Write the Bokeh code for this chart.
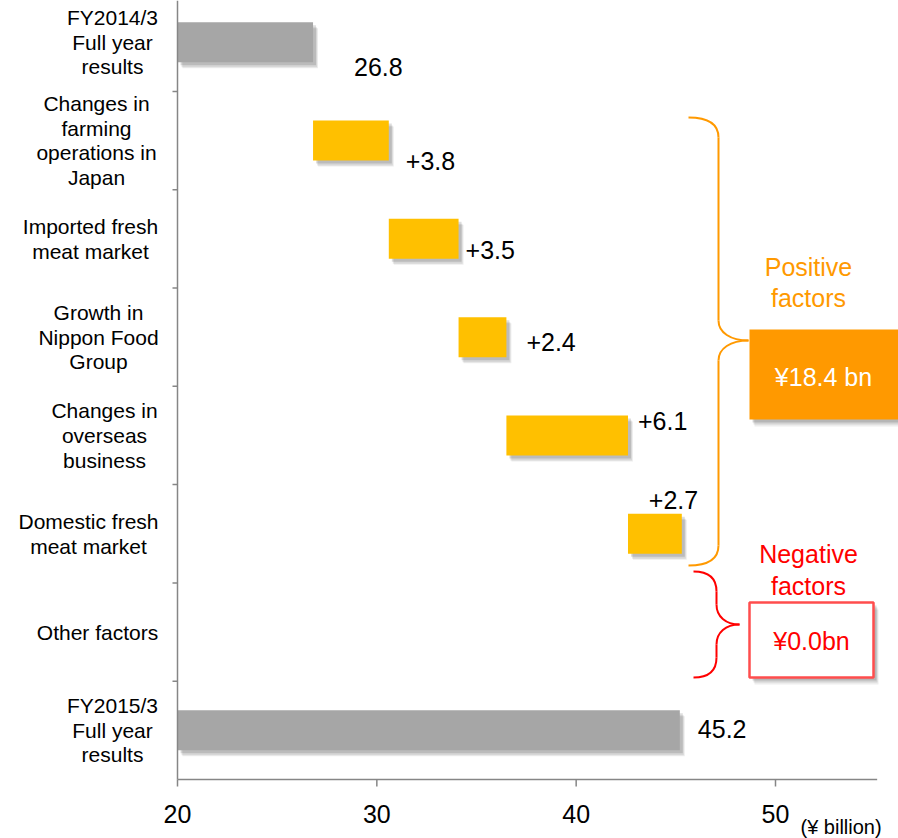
from bokeh.plotting import figure
from bokeh.models import Range1d, ColumnDataSource
from bokeh.embed import file_html
from bokeh.resources import INLINE
from bokeh.core.properties import value

# ---------------- data ----------------
categories = [
    "FY2014/3\nFull year\nresults",
    "Changes in\nfarming\noperations in\nJapan",
    "Imported fresh\nmeat market",
    "Growth in\nNippon Food\nGroup",
    "Changes in\noverseas\nbusiness",
    "Domestic fresh\nmeat market",
    "Other factors",
    "FY2015/3\nFull year\nresults",
]
start_value = 26.8
factor_values = [3.8, 3.5, 2.4, 6.1, 2.7, 0.0]
end_value = 45.2
value_labels = ["26.8", "+3.8", "+3.5", "+2.4", "+6.1", "+2.7", "", "45.2"]
x_ticks = [20, 30, 40, 50]
x_tick_labels = ["20", "30", "40", "50"]
positive_title = ["Positive", "factors"]
negative_title = ["Negative", "factors"]
positive_total = "¥18.4 bn"
negative_total = "¥0.0bn"
unit_label = "(¥ billion)"

# ---------------- layout constants ----------------
W, H = 898, 838
LEFT_PX, BOTTOM_PX = 177, 779
X0 = 20.0
X_AXIS_END = 55.1
PXU = (775 - 177) / 30.0          # px per x unit
ROWH = 98.3                        # px per row
Y_TOP = 7.5 - BOTTOM_PX / ROWH     # data y at top of window
FONT = "Liberation Sans"
GRAY = "#A6A6A6"
YELLOW = "#FFC000"
ORANGE = "#FF9900"
RED = "#FF0000"
AXIS = "#868686"


def X(px):
    return X0 + (px - LEFT_PX) / PXU


def Y(py):
    return Y_TOP + py / ROWH


rows = list(range(len(categories)))
lefts, rights = [X0], [start_value]
cum = start_value
for v in factor_values:
    lefts.append(cum)
    cum += v
    rights.append(cum)
lefts.append(X0)
rights.append(end_value)
colors = [GRAY] + [YELLOW] * len(factor_values) + [GRAY]

p = figure(width=W, height=H, output_backend="svg", toolbar_location=None,
           x_range=Range1d(X(0), X(W)), y_range=Range1d(Y(H), Y(0)),
           min_border=0)
p.outline_line_color = None
p.xaxis.visible = False
p.yaxis.visible = False
p.xgrid.visible = False
p.ygrid.visible = False
p.background_fill_color = "white"
p.border_fill_color = "white"

BAR_H = 40 / ROWH
# shadows
for dx, dy, a in [(5, 6, 0.07), (4, 5, 0.09), (3, 3, 0.13)]:
    p.quad(left=[l + dx / PXU for l in lefts], right=[r + dx / PXU for r in rights],
           top=[y - BAR_H / 2 + dy / ROWH for y in rows],
           bottom=[y + BAR_H / 2 + dy / ROWH for y in rows],
           fill_color="black", fill_alpha=a, line_color=None)
p.hbar(y=rows, left=lefts, right=rights, height=BAR_H, fill_color=colors, line_color=None)

# value labels
label_dx = [41, 17, 7, 20, 10, -33, 0, 18]
label_dy = [25, 20, 11, 5, -14, -34, 0, -1]
src = ColumnDataSource(dict(x=rights, y=rows, t=value_labels, dx=label_dx, dy=label_dy))
p.text(x="x", y="y", text="t", x_offset="dx", y_offset="dy", source=src,
       text_font=value(FONT), text_font_size="25px", text_color="black",
       text_align="left", text_baseline="middle")

# category labels
centers = [112, 96, 90, 98, 104, 88, 97, 112]
p.text(x=[X(c) for c in centers], y=rows, text=categories, text_font=value(FONT),
       text_font_size="21px", text_align="center", text_baseline="middle",
       text_line_height=1.07, text_color="black")

# axes (drawn through the same data scales)
p.segment(x0=[X0, X0], y0=[7.5, Y(0)], x1=[X_AXIS_END, X0], y1=[7.5, 7.5],
          line_color=AXIS, line_width=1.5)
p.segment(x0=x_ticks, y0=[7.5] * len(x_ticks), x1=x_ticks,
          y1=[7.5 + 7 / ROWH] * len(x_ticks), line_color=AXIS, line_width=1.5)
bounds = [r + 0.5 for r in rows[:-1]]
p.segment(x0=[X0 - 5 / PXU] * len(bounds), y0=bounds, x1=[X0] * len(bounds), y1=bounds,
          line_color=AXIS, line_width=1.5)
p.text(x=x_ticks, y=[Y(813)] * len(x_ticks), text=x_tick_labels, text_font=value(FONT),
       text_font_size="25px", text_color="black", text_align="center", text_baseline="middle")
p.text(x=[X(800)], y=[Y(826)], text=[unit_label], text_font=value(FONT),
       text_font_size="20px", text_color="black", text_align="left", text_baseline="middle")


# braces
def brace(x0, xv, xt, y0, yt, y1, rv, color):
    rh = xv - x0
    beziers = [
        (x0, y0, xv, y0 + rv, x0 + rh * 0.7, y0, xv, y0 + rv * 0.4),
        (xv, yt - rv, xt, yt, xv, yt - rv * 0.4, xv + rh * 0.4, yt),
        (xt, yt, xv, yt + rv, xv + rh * 0.4, yt, xv, yt + rv * 0.4),
        (xv, y1 - rv, x0, y1, xv, y1 - rv * 0.4, x0 + rh * 0.7, y1),
    ]
    p.bezier(x0=[X(b[0]) for b in beziers], y0=[Y(b[1]) for b in beziers],
             x1=[X(b[2]) for b in beziers], y1=[Y(b[3]) for b in beziers],
             cx0=[X(b[4]) for b in beziers], cy0=[Y(b[5]) for b in beziers],
             cx1=[X(b[6]) for b in beziers], cy1=[Y(b[7]) for b in beziers],
             line_color=color, line_width=2)
    p.segment(x0=[X(xv), X(xv)], y0=[Y(y0 + rv), Y(yt + rv)],
              x1=[X(xv), X(xv)], y1=[Y(yt - rv), Y(y1 - rv)],
              line_color=color, line_width=2)


brace(688, 718, 748, 117, 340, 565, 20, ORANGE)
brace(693, 716, 739, 571, 624, 677, 20, RED)

# positive box
for dx, dy, a in [(5, 7, 0.07), (4, 5, 0.1), (3, 3, 0.14)]:
    p.quad(left=[X(749 + dx)], right=[X(898 + dx)], top=[Y(329 + dy)], bottom=[Y(419 + dy)],
           fill_color="black", fill_alpha=a, line_color=None)
p.quad(left=[X(749)], right=[X(898)], top=[Y(329)], bottom=[Y(419)],
       fill_color=ORANGE, line_color=None)
p.text(x=[X(823)], y=[Y(376)], text=[positive_total], text_font=value(FONT),
       text_font_size="25px", text_color="white", text_align="center", text_baseline="middle")
p.text(x=[X(808), X(808)], y=[Y(266), Y(297)], text=positive_title, text_font=value(FONT),
       text_font_size="25px", text_color=ORANGE, text_align="center", text_baseline="middle")

# negative box
for dx, dy, a in [(5, 7, 0.07), (4, 5, 0.1), (3, 3, 0.14)]:
    p.quad(left=[X(749 + dx)], right=[X(873 + dx)], top=[Y(602 + dy)], bottom=[Y(677 + dy)],
           fill_color="black", fill_alpha=a, line_color=None)
p.quad(left=[X(749)], right=[X(873)], top=[Y(602)], bottom=[Y(677)],
       fill_color="white", line_color="#FF4D4D", line_width=2.5)
p.text(x=[X(811)], y=[Y(640)], text=[negative_total], text_font=value(FONT),
       text_font_size="25px", text_color=RED, text_align="center", text_baseline="middle")
p.text(x=[X(808), X(808)], y=[Y(553), Y(585)], text=negative_title, text_font=value(FONT),
       text_font_size="25px", text_color=RED, text_align="center", text_baseline="middle")

open("out.html", "w").write(file_html(p, INLINE))
